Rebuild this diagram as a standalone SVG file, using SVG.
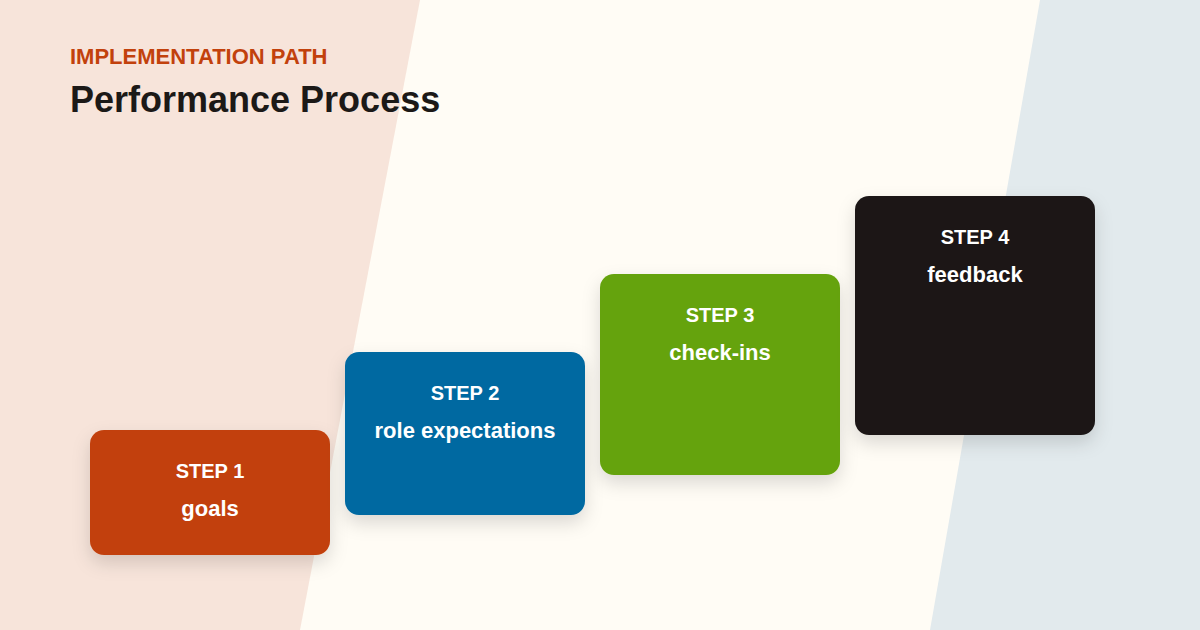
<svg xmlns="http://www.w3.org/2000/svg" width="1200" height="630" viewBox="0 0 1200 630">
<style>
.step{font-family:"Liberation Sans",Arial,sans-serif;font-weight:700;font-size:20px;fill:#ffffff;text-anchor:middle}
.lbl{font-family:"Liberation Sans",Arial,sans-serif;font-weight:700;font-size:22px;fill:#ffffff;text-anchor:middle}
.box{filter:url(#sh)}
</style>
<defs>
<filter id="sh" x="-20%" y="-20%" width="140%" height="150%">
<feDropShadow dx="0" dy="8" stdDeviation="9" flood-color="#1c1917" flood-opacity="0.14"/>
</filter>
</defs>
<rect width="1200" height="630" fill="#fffcf5"/>
<polygon points="0,0 420,0 300,630 0,630" fill="#f7e4da"/>
<polygon points="1040,0 1200,0 1200,630 930,630" fill="#e2eaed"/>
<text x="70" y="64" font-family="Liberation Sans,Arial,sans-serif" font-weight="700" font-size="22" fill="#c2410c">IMPLEMENTATION PATH</text>
<text x="70" y="112" font-family="Liberation Sans,Arial,sans-serif" font-weight="700" font-size="36" fill="#1c1917">Performance Process</text>
<g id="connectors"></g>
<g id="step1">
<rect class="box" x="90" y="430" width="240" height="125" rx="14" fill="#c2410c"/>
<text class="step" x="210" y="478">STEP 1</text>
<text class="lbl" x="210" y="516">goals</text>
</g>
<g id="step2">
<rect class="box" x="345" y="352" width="240" height="163" rx="14" fill="#0369a1"/>
<text class="step" x="465" y="400">STEP 2</text>
<text class="lbl" x="465" y="438">role expectations</text>
</g>
<g id="step3">
<rect class="box" x="600" y="274" width="240" height="201" rx="14" fill="#65a30d"/>
<text class="step" x="720" y="322">STEP 3</text>
<text class="lbl" x="720" y="360">check-ins</text>
</g>
<g id="step4">
<rect class="box" x="855" y="196" width="240" height="239" rx="14" fill="#1c1917"/>
<text class="step" x="975" y="244">STEP 4</text>
<text class="lbl" x="975" y="282">feedback</text>
</g>
</svg>
